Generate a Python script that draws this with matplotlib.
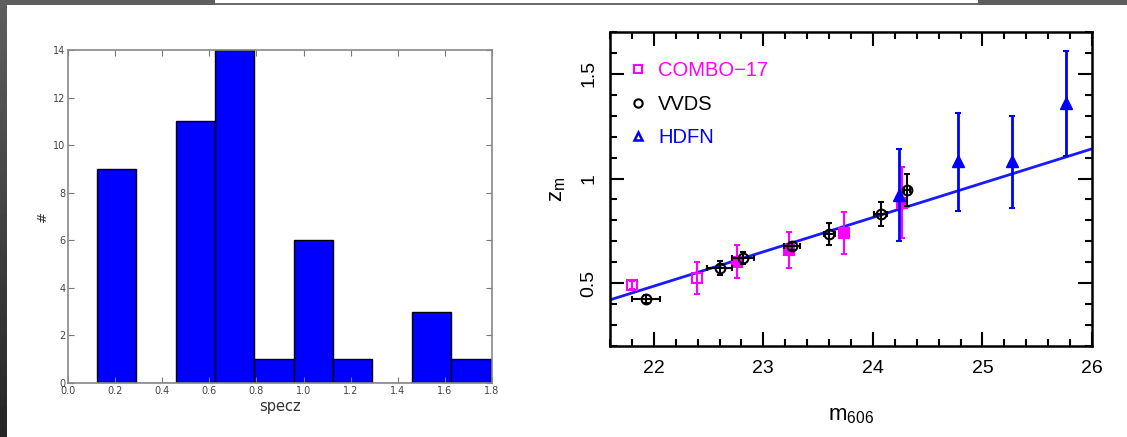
import numpy as np
import matplotlib
matplotlib.use("Agg")
import matplotlib.pyplot as plt
from matplotlib.lines import Line2D
from matplotlib.patches import Rectangle
from matplotlib.ticker import MultipleLocator

# spectroscopic redshift histogram
bin_edges = [0.122, 0.289, 0.457, 0.624, 0.791, 0.958, 1.125, 1.292, 1.46, 1.627, 1.794]
counts = [9, 0, 11, 14, 1, 6, 1, 0, 3, 1]

# COMBO-17 medians (open and filled symbols)
combo_open_m = [21.80, 22.39]
combo_open_z = [0.49, 0.525]
combo_open_err = [0.02, 0.077]
combo_fill_m = [22.76, 23.23, 23.74, 24.27]
combo_fill_z = [0.603, 0.66, 0.739, 0.885]
combo_fill_err = [0.08, 0.086, 0.10, 0.17]

# VVDS medians
vvds_m = [21.93, 22.60, 22.81, 23.26, 23.60, 24.07, 24.31]
vvds_z = [0.425, 0.573, 0.62, 0.678, 0.734, 0.832, 0.945]
vvds_zerr = [0.02, 0.035, 0.03, 0.02, 0.053, 0.057, 0.075]
vvds_merr = [0.13, 0.11, 0.10, 0.07, 0.05, 0.06, 0.03]

# HDFN medians
hdfn_m = [24.24, 24.78, 25.27, 25.76]
hdfn_z = [0.921, 1.082, 1.082, 1.36]
hdfn_err_lo = [0.221, 0.235, 0.224, 0.25]
hdfn_err_hi = [0.221, 0.23, 0.218, 0.25]

# linear fit z_m(m_606)
fit_slope = 0.164
fit_intercept = -3.122

fig = plt.figure(figsize=(11.27, 4.37), dpi=100)
fig.patch.set_facecolor("white")

# dark slide border
edge = fig.add_axes([0, 0, 7 / 1127, 1])
grad = np.linspace(0.37, 0.15, 100).reshape(-1, 1)
edge.imshow(grad, cmap="gray", vmin=0, vmax=1, aspect="auto")
edge.set_axis_off()
fig.add_artist(Rectangle((0, 1 - 5 / 437), 215 / 1127, 5 / 437,
                         transform=fig.transFigure, color="#5e5e5e", lw=0))
fig.add_artist(Rectangle((978 / 1127, 1 - 4.5 / 437), 149 / 1127, 4.5 / 437,
                         transform=fig.transFigure, color="#5e5e5e", lw=0))
fig.add_artist(Rectangle((215 / 1127, 1 - 4.5 / 437), 763 / 1127, 1.2 / 437,
                         transform=fig.transFigure, color="#6a6a6a", lw=0))

# left: histogram
ax1 = fig.add_axes([68 / 1127, 54 / 437, 424 / 1127, 333 / 437])
ax1.bar(bin_edges[:-1], counts, width=np.diff(bin_edges), align="edge",
        color="#0000ff", edgecolor="black", linewidth=1.0)
ax1.set_xlim(0, 1.8)
ax1.set_ylim(0, 14)
ax1.set_xticks(np.arange(0, 1.81, 0.2))
ax1.set_xticklabels(["%.1f" % v for v in np.arange(0, 1.81, 0.2)])
ax1.set_yticks(range(0, 15, 2))
ax1.tick_params(direction="in", top=True, right=True, length=4, width=0.8,
                color="#777777", labelsize=7, labelcolor="#444444", pad=2)
for s in ax1.spines.values():
    s.set_color("#888888")
    s.set_linewidth(1.2)
ax1.set_xlabel("specz", fontsize=10.5, color="#333333", labelpad=2)
ax1.set_ylabel("#", fontsize=9.5, color="#333333", labelpad=3)

# right: median redshift vs magnitude
hfont = "Liberation Sans"
ax2 = fig.add_axes([610 / 1127, 91 / 437, 482 / 1127, 314 / 437])
ax2.set_xlim(21.6, 26)
ax2.set_ylim(0.2, 1.7)

xs = np.array(ax2.get_xlim())
ax2.plot(xs, fit_intercept + fit_slope * xs, color="#1a1aff", lw=2, zorder=2)

ax2.errorbar(combo_open_m, combo_open_z, yerr=combo_open_err, fmt="s", ms=7,
             mfc="none", mec="#ff00ff", mew=1.5, ecolor="#ff00ff", elinewidth=1.5,
             capsize=2.5, capthick=1.5, zorder=3)
ax2.errorbar(combo_fill_m, combo_fill_z, yerr=combo_fill_err, fmt="s", ms=7,
             mfc="#ff00ff", mec="#ff00ff", mew=1.5, ecolor="#ff00ff", elinewidth=1.5,
             capsize=2.5, capthick=1.5, zorder=3)
ax2.errorbar(vvds_m, vvds_z, xerr=vvds_merr, yerr=vvds_zerr, fmt="o", ms=7,
             mfc="none", mec="black", mew=1.5, ecolor="black", elinewidth=1.5,
             capsize=2.5, capthick=1.5, zorder=4)
ax2.errorbar(hdfn_m, hdfn_z, yerr=[hdfn_err_lo, hdfn_err_hi], fmt="^", ms=9,
             mfc="#0000ff", mec="#0000ff", ecolor="#0000ff", elinewidth=2,
             capsize=2.5, capthick=1.5, zorder=5)

ax2.set_xticks([22, 23, 24, 25, 26])
ax2.set_yticks([0.5, 1.0, 1.5])
ax2.set_yticklabels(["0.5", "1", "1.5"], rotation=90, va="center")
ax2.xaxis.set_minor_locator(MultipleLocator(0.2))
ax2.yaxis.set_minor_locator(MultipleLocator(0.1))
ax2.tick_params(which="both", direction="in", top=True, right=True, width=1.5,
                color="black")
ax2.tick_params(which="major", length=10)
ax2.tick_params(which="minor", length=5)
ax2.tick_params(axis="x", which="major", pad=10, labelsize=14)
ax2.tick_params(axis="y", which="major", pad=9, labelsize=14)
for lab in ax2.get_xticklabels() + ax2.get_yticklabels():
    lab.set_family(hfont)
for s in ax2.spines.values():
    s.set_linewidth(1.8)

ax2.set_xlabel(r"m$_{\mathregular{606}}$", fontsize=16, family=hfont, labelpad=20)
ax2.set_ylabel(r"z$_{\mathregular{m}}$", fontsize=16, family=hfont, labelpad=9)

handles = [
    Line2D([], [], ls="none", marker="s", ms=6, mfc="none", mec="#ff00ff", mew=1.5),
    Line2D([], [], ls="none", marker="o", ms=6, mfc="none", mec="black", mew=1.5),
    Line2D([], [], ls="none", marker="^", ms=6, mfc="none", mec="#0000ff", mew=1.8),
]
leg = ax2.legend(handles, ["COMBO\u221217", "VVDS", "HDFN"], loc="upper left",
                 bbox_to_anchor=(0.0, 0.965), frameon=False, handlelength=1.0,
                 handletextpad=0.5, labelspacing=0.72, prop={"family": hfont, "size": 14.5})
for txt, c in zip(leg.get_texts(), ["#ff00ff", "black", "#0000ff"]):
    txt.set_color(c)

fig.savefig("out.png", dpi=100)
